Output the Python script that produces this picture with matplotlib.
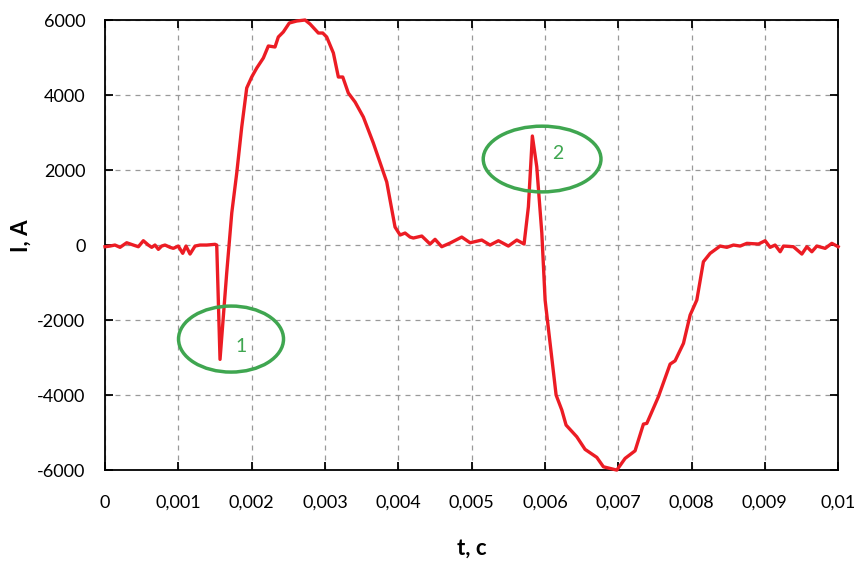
import matplotlib
matplotlib.use("Agg")
import matplotlib.pyplot as plt
from matplotlib.patches import Ellipse

plt.rcParams['font.family'] = ['Lato', 'DejaVu Sans']
plt.rcParams['axes.unicode_minus'] = False

# time, s
t = [0.0, 0.000068, 0.000136, 0.000205, 0.000296, 0.000386, 0.000455, 0.000523,
     0.000591, 0.000637, 0.000682, 0.000728, 0.000773, 0.000819, 0.000887, 0.000932,
     0.001, 0.00106, 0.001105, 0.00116, 0.001228, 0.001296, 0.001387, 0.001501,
     0.001524, 0.001569, 0.00166, 0.001729, 0.001797, 0.001865, 0.001933, 0.002001,
     0.00207, 0.00216, 0.002228, 0.002319, 0.002364, 0.002432, 0.002514, 0.002615,
     0.002729, 0.002797, 0.00291, 0.00297, 0.003024, 0.003115, 0.003183, 0.003243,
     0.003319, 0.003411, 0.003524, 0.00366, 0.003843, 0.003888, 0.003956, 0.004025,
     0.004093, 0.004161, 0.004206, 0.004321, 0.004434, 0.004502, 0.004593, 0.004707,
     0.004866, 0.00498, 0.005139, 0.005252, 0.005366, 0.005502, 0.005617, 0.005716,
     0.005775, 0.005829, 0.005889, 0.005958, 0.006003, 0.006071, 0.006153, 0.006231,
     0.006289, 0.006435, 0.006548, 0.006708, 0.006798, 0.006981, 0.007094, 0.00723,
     0.007344, 0.00739, 0.007548, 0.007708, 0.007776, 0.00789, 0.007981, 0.008072,
     0.008162, 0.008254, 0.00839, 0.008482, 0.008572, 0.008663, 0.008755, 0.008913,
     0.009004, 0.009072, 0.00914, 0.009209, 0.009254, 0.00939, 0.009505, 0.009573,
     0.009641, 0.009709, 0.009823, 0.009914, 0.01]

# current, A
current = [-45, -27, 0, -61, 61, 0, -45, 115,
           0, -61, 0, -115, -27, 0, -61, -88,
           -27, -221, -27, -240, -27, 0, 0, 19,
           0, -3048, -747, 853, 1920, 3147, 4187, 4480,
           4720, 4987, 5307, 5280, 5547, 5680, 5920, 5973,
           6000, 5893, 5653, 5653, 5547, 5120, 4480, 4480,
           4053, 3813, 3413, 2720, 1680, 1200, 480, 267,
           320, 213, 187, 240, 27, 152, -45, 53,
           213, 61, 133, 0, 115, -27, 133, 27,
           1021, 2907, 2088, 320, -1467, -2621, -4000, -4400,
           -4800, -5112, -5448, -5661, -5912, -6000, -5688, -5486,
           -4774, -4755, -4046, -3174, -3086, -2621, -1867, -1467,
           -445, -221, -27, -61, 0, -27, 45, 27,
           115, -61, 0, -179, -27, -45, -240, -45,
           -179, -27, -88, 45, -45]

x_ticks = [0, 0.001, 0.002, 0.003, 0.004, 0.005, 0.006, 0.007, 0.008, 0.009, 0.01]
x_tick_labels = ['0', '0,001', '0,002', '0,003', '0,004', '0,005', '0,006',
                 '0,007', '0,008', '0,009', '0,01']
y_ticks = [-6000, -4000, -2000, 0, 2000, 4000, 6000]

red = '#ec1c24'
green = '#3fa650'

fig = plt.figure(figsize=(8.55, 5.65), dpi=100)
ax = fig.add_axes([0.1228, 0.168, 0.8575, 0.7966])

ax.plot(t, current, color=red, lw=2.4, clip_on=False, zorder=3)

# marked zones
ax.add_patch(Ellipse((0.001719, -2507), 0.001432, 1760, fill=False,
                     ec=green, lw=2.5, zorder=4))
ax.text(0.00185, -2700, '1', color=green, fontsize=14, ha='center', va='center')
ax.add_patch(Ellipse((0.005962, 2293), 0.001606, 1752, fill=False,
                     ec=green, lw=2.5, zorder=4))
ax.text(0.006172, 2450, '2', color=green, fontsize=14, ha='center', va='center')

ax.set_xlim(0, 0.01)
ax.set_ylim(-6000, 6000)
ax.set_xticks(x_ticks)
ax.set_xticklabels(x_tick_labels)
ax.set_yticks(y_ticks)

ax.grid(True, color='#999999', ls=(0, (4, 4)), lw=0.9)
ax.tick_params(direction='in', length=6, width=1.3, top=True, right=True,
               labelsize=13)
ax.tick_params(axis='x', pad=18)
ax.tick_params(axis='y', pad=14)
for s in ax.spines.values():
    s.set_linewidth(1.3)

ax.set_xlabel('t, c', fontsize=16, fontweight='bold')
ax.set_ylabel('I, A', fontsize=16, fontweight='bold')
ax.xaxis.set_label_coords(0.5, -0.15)
ax.yaxis.set_label_coords(-0.1, 0.52)

fig.savefig('out.png', dpi=100)
